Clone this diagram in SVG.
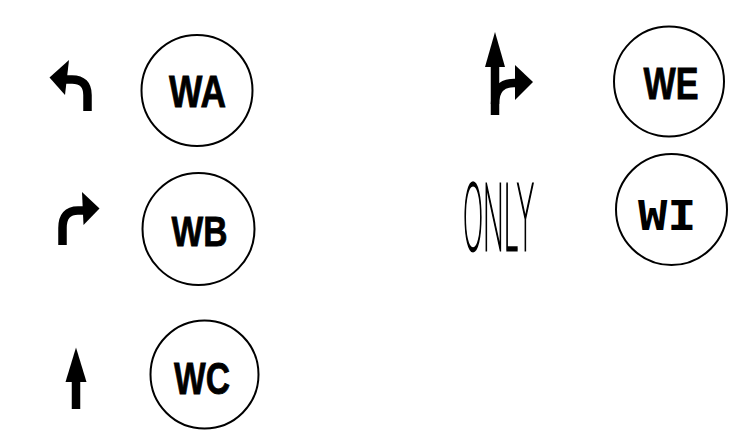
<svg xmlns="http://www.w3.org/2000/svg" width="753" height="442" viewBox="0 0 753 442">
<style>
.c{fill:none;stroke:#000;stroke-width:2}
.t{font-family:"Liberation Sans",Arial,sans-serif;font-weight:bold;fill:#000;stroke:#000;stroke-width:0.8}
.m{font-family:"DejaVu Sans Mono","Liberation Mono",monospace;font-weight:bold;fill:#000}
.s{fill:none;stroke:#000;stroke-width:8.5}
.h{fill:#000}
.o{font-family:Inter,"DejaVu Sans",sans-serif;font-weight:100;fill:#000;stroke:#000;stroke-width:3.2}
</style>
<rect width="753" height="442" fill="#fff"/>
<g id="WA"><circle class="c" cx="197" cy="90.5" r="55.5"/><text class="t" x="169" y="106.5" font-size="44" textLength="57" lengthAdjust="spacingAndGlyphs">WA</text></g>
<g id="WB"><circle class="c" cx="198.5" cy="229" r="56"/><text class="t" x="171.5" y="245.5" font-size="43" textLength="56" lengthAdjust="spacingAndGlyphs">WB</text></g>
<g id="WC"><circle class="c" cx="204.5" cy="374.5" r="54"/><text class="t" x="174" y="394" font-size="44" textLength="56" lengthAdjust="spacingAndGlyphs">WC</text></g>
<g id="WE"><circle class="c" cx="669" cy="81.5" r="55"/><text class="t" x="643.5" y="98.5" font-size="43.5" textLength="55" lengthAdjust="spacingAndGlyphs">WE</text></g>
<g id="WI"><circle class="c" cx="671.5" cy="209.5" r="55.5"/><text class="m" transform="translate(638 229.5) scale(1.2 1)" x="0" y="0" font-size="40.5">WI</text></g>
<g id="arrows">
<path class="s" d="M62 79.5 L72 79.5 Q87.5 79.5 87.5 95 L87.5 111"/>
<polygon class="h" points="49.5,77.5 69,60 65,95"/>
<path class="s" d="M62.5 245 L62.5 228 Q62.5 210.5 78 210.5 L86 210.5"/>
<polygon class="h" points="99.5,208.5 82,192 83.5,225"/>
<path class="s" d="M76 409 L76 378"/>
<polygon class="h" points="76,347.5 65.5,382 86.5,382"/>
<path class="s" d="M495 115 L495 62"/>
<polygon class="h" points="495,32 485,67 505,67"/>
<path class="s" d="M495 104 Q495 83 514 83 L518 83"/>
<polygon class="h" points="533,82 515,65 515,100"/>
</g>
<text class="o" x="463" y="249.5" font-size="91" textLength="71" lengthAdjust="spacingAndGlyphs">ONLY</text>
</svg>
